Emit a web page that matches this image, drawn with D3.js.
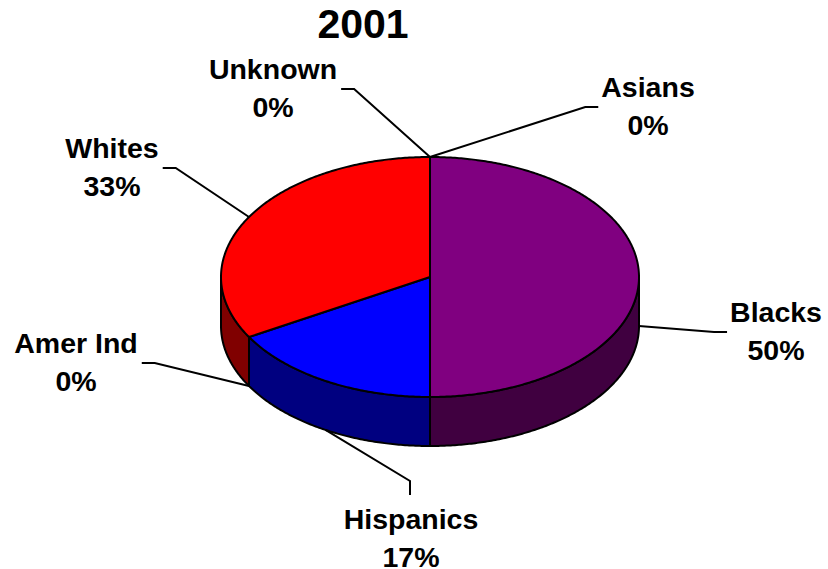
<!DOCTYPE html>
<html>
<head>
<meta charset="utf-8">
<script src="https://cdn.jsdelivr.net/npm/d3@7"></script>
<style>
  body { margin: 0; background: #fff; }
  text { font-family: Arial, "Liberation Sans", Helvetica, sans-serif; font-weight: bold; fill: #000; }
</style>
</head>
<body>
<svg id="chart" width="828" height="569"></svg>
<script>
// ---- data ----
const title = "2001";
const categories = ["Asians", "Blacks", "Hispanics", "Amer Ind", "Whites", "Unknown"];
const values = [0, 3, 1, 0, 2, 0];
const colors = ["#00ff00", "#800080", "#0000ff", "#ffff00", "#ff0000", "#00ffff"];

// ---- layout ----
const W = 828, H = 569;
const cx = 430, cy = 277, rx = 209, ry = 120, depth = 49;
const lineGap = 38;
// label block centre and which side of the text the leader line meets
const labelLayout = {
  "Asians":    { x: 648, y: 107, side: "left" },
  "Blacks":    { x: 776, y: 332, side: "left" },
  "Hispanics": { x: 411, y: 539, side: "top" },
  "Amer Ind":  { x: 76,  y: 363, side: "right" },
  "Whites":    { x: 112, y: 168, side: "right" },
  "Unknown":   { x: 273, y: 89,  side: "right" }
};

const svg = d3.select("#chart");
const total = d3.sum(values);
const pct = d3.format(".0%");

const rows = categories.map((c, i) => ({ name: c, value: values[i], color: colors[i] }));
const arcs = d3.pie().value(d => d.value).sort(null)
  .startAngle(0).endAngle(2 * Math.PI)(rows);

// point on the ellipse at angle a (clockwise from 12 o'clock)
const pt = (a, dy = 0) => [cx + rx * Math.sin(a), cy - ry * Math.cos(a) + dy];
const samples = (a0, a1) => {
  const n = Math.max(2, Math.ceil((a1 - a0) / 0.01));
  return d3.range(n + 1).map(i => a0 + (a1 - a0) * i / n);
};
const line = d3.line().curve(d3.curveLinearClosed);
const darken = c => { const r = d3.rgb(c); return d3.rgb(r.r / 2, r.g / 2, r.b / 2).formatHex(); };

// outer walls (only the front half is visible)
const walls = arcs.filter(d => d.value > 0).map(d => {
  const lo = Math.max(d.startAngle, Math.PI / 2);
  const hi = Math.min(d.endAngle, 3 * Math.PI / 2);
  return { d, lo, hi };
}).filter(w => w.hi > w.lo);

svg.append("g").selectAll("path").data(walls).join("path")
  .attr("d", w => {
    const a = samples(w.lo, w.hi);
    return line(a.map(t => pt(t)).concat(a.slice().reverse().map(t => pt(t, depth))));
  })
  .attr("fill", w => darken(w.d.data.color))
  .attr("stroke", "#000").attr("stroke-width", 2).attr("stroke-linejoin", "round");

// top faces
svg.append("g").selectAll("path").data(arcs.filter(d => d.value > 0)).join("path")
  .attr("d", d => line([[cx, cy]].concat(samples(d.startAngle, d.endAngle).map(t => pt(t)))))
  .attr("fill", d => d.data.color)
  .attr("stroke", "#000").attr("stroke-width", 2).attr("stroke-linejoin", "round");

// title
svg.append("text").attr("x", 363).attr("y", 38).attr("text-anchor", "middle")
  .style("font-size", "41px").text(title);

// labels with leader lines
const labels = svg.append("g");
const leaders = svg.append("g");
arcs.forEach(d => {
  const L = labelLayout[d.data.name];
  const t = labels.append("text").attr("text-anchor", "middle").style("font-size", "28.5px");
  t.append("tspan").attr("x", L.x).attr("y", L.y - 10).text(d.data.name);
  t.append("tspan").attr("x", L.x).attr("y", L.y - 10 + lineGap).text(pct(d.value / total));
  const bb = t.node().getBBox();

  const a = (d.startAngle + d.endAngle) / 2;
  const anchor = pt(a, Math.cos(a) < 0.01 ? depth : 0);
  let end, elbow;
  if (L.side === "left") { end = [bb.x - 3, L.y]; elbow = [end[0] - 13, L.y]; }
  else if (L.side === "right") { end = [bb.x + bb.width + 4, L.y]; elbow = [end[0] + 13, L.y]; }
  else { end = [L.x - 1, L.y - 31 - 13]; elbow = [end[0], end[1] - 14]; }
  leaders.append("path")
    .attr("d", d3.line()([anchor, elbow, end]))
    .attr("fill", "none").attr("stroke", "#000").attr("stroke-width", 2);
});
</script>
</body>
</html>
